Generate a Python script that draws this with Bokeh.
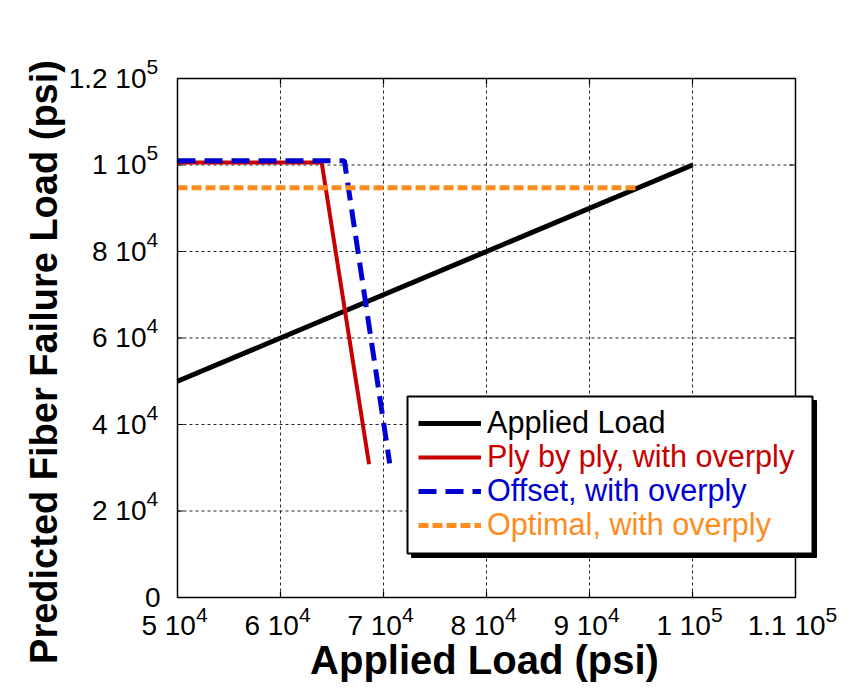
import math
from bokeh.plotting import figure
from bokeh.models import Range1d, Legend, LegendItem
from bokeh.core.properties import value
from bokeh.embed import file_html
from bokeh.resources import INLINE

# --- data (psi) ---
applied_x = [50000, 100000]
applied_y = [50000, 100000]

ply_x = [50000, 64000, 68600]
ply_y = [100550, 100550, 30800]

offset_x = [50000, 66200, 70600]
offset_y = [101000, 101000, 31000]

optimal_x = [50000, 94700]
optimal_y = [94750, 94750]

# tick positions and labels written as "mantissa 10^exponent"
x_ticks = [50000, 60000, 70000, 80000, 90000, 100000, 110000]
x_mant = ["5", "6", "7", "8", "9", "1", "1.1"]
x_exp = ["4", "4", "4", "4", "4", "5", "5"]
y_ticks = [0, 20000, 40000, 60000, 80000, 100000, 120000]
y_mant = ["0", "2", "4", "6", "8", "1", "1.2"]
y_exp = ["", "4", "4", "4", "4", "5", "5"]

series_labels = ["Applied Load", "Ply by ply, with overply",
                 "Offset, with overply", "Optimal, with overply"]
series_colors = ["#000000", "#C80000", "#0000D2", "#FF8C1E"]

x_title = "Applied Load (psi)"
y_title = "Predicted Fiber Failure Load (psi)"

# --- page geometry (pixels) ---
W, H = 858, 690
BOX_L, BOX_R, BOX_T, BOX_B = 177, 795, 78, 597

FONT = value("Liberation Sans")
BASE_PX = 28
EXP_PX = 21
LIFT = 8  # raise text glyphs so their baselines sit where intended

x_per_px = (x_ticks[-1] - x_ticks[0]) / (BOX_R - BOX_L)
y_per_px = (y_ticks[-1] - y_ticks[0]) / (BOX_B - BOX_T)


def px2x(px):
    return x_ticks[0] + (px - BOX_L) * x_per_px


def px2y(py):
    return y_ticks[0] + (BOX_B - py) * y_per_px


def text_width(s, px):
    """Approximate advance width of a numeric string in an Arial-metric font."""
    return sum(0.278 if ch in " ." else 0.556 for ch in s) * px


# the frame fills the page; the plot box is drawn inside it
p = figure(width=W, height=H, output_backend="svg", toolbar_location=None,
           x_range=Range1d(px2x(0), px2x(W)), y_range=Range1d(px2y(H), px2y(0)),
           min_border=0, min_border_left=0, min_border_right=0,
           min_border_top=0, min_border_bottom=0,
           background_fill_color="white", border_fill_color="white")
p.outline_line_color = None
p.xaxis.visible = False
p.yaxis.visible = False
p.grid.visible = False

# dotted grid inside the plot box
gx = x_ticks[1:-1]
gy = y_ticks[1:-1]
p.segment(x0=gx, y0=[y_ticks[0]] * len(gx), x1=gx, y1=[y_ticks[-1]] * len(gx),
          line_color="black", line_alpha=0.85, line_width=1, line_dash="3 3")
p.segment(x0=[x_ticks[0]] * len(gy), y0=gy, x1=[x_ticks[-1]] * len(gy), y1=gy,
          line_color="black", line_alpha=0.85, line_width=1, line_dash="3 3")

# inward tick marks on all four sides
tick_kw = dict(length=6, length_units="screen", line_color="black", line_width=1.2)
p.ray(x=gx, y=[y_ticks[0]] * len(gx), angle=math.pi / 2, **tick_kw)
p.ray(x=gx, y=[y_ticks[-1]] * len(gx), angle=-math.pi / 2, **tick_kw)
p.ray(x=[x_ticks[0]] * len(gy), y=gy, angle=0, **tick_kw)
p.ray(x=[x_ticks[-1]] * len(gy), y=gy, angle=math.pi, **tick_kw)

# series
r_applied = p.line(applied_x, applied_y, line_color=series_colors[0], line_width=5)
r_ply = p.line(ply_x, ply_y, line_color=series_colors[1], line_width=4)
r_offset = p.line(offset_x, offset_y, line_color=series_colors[2], line_width=5,
                  line_dash="18 9")
r_optimal = p.line(optimal_x, optimal_y, line_color=series_colors[3], line_width=5,
                   line_dash="10 4")

# plot box
p.quad(left=[x_ticks[0]], right=[x_ticks[-1]], bottom=[y_ticks[0]], top=[y_ticks[-1]],
       fill_alpha=0, line_color="black", line_width=1.5)

# --- x tick labels: base text plus raised exponent ---
xb_text, x_split = [], []
for m, e in zip(x_mant, x_exp):
    base = m + " 10"
    wb = text_width(base, BASE_PX)
    we = text_width(e, EXP_PX)
    xb_text.append(base)
    x_split.append(-(wb + we) / 2 - 3 + wb)
zeros_x = [y_ticks[0]] * len(x_ticks)
p.text(x=x_ticks, y=zeros_x, text=xb_text, x_offset=x_split, y_offset=36 - LIFT,
       text_align="right", text_baseline="alphabetic", text_font=FONT,
       text_font_size=f"{BASE_PX}px", text_color="black")
p.text(x=x_ticks, y=zeros_x, text=x_exp, x_offset=x_split, y_offset=25 - LIFT,
       text_align="left", text_baseline="alphabetic", text_font=FONT,
       text_font_size=f"{EXP_PX}px", text_color="black")

# --- y tick labels ---
yb_text, yb_off, ye_text, ye_y = [], [], [], []
for t, m, e in zip(y_ticks, y_mant, y_exp):
    if e:
        yb_text.append(m + " 10")
        yb_off.append(-31)
        ye_text.append(e)
        ye_y.append(t)
    else:
        yb_text.append(m)
        yb_off.append(-17)
left_x = [x_ticks[0]] * len(y_ticks)
p.text(x=left_x, y=y_ticks, text=yb_text, x_offset=yb_off, y_offset=7.5 - LIFT,
       text_align="right", text_baseline="alphabetic", text_font=FONT,
       text_font_size=f"{BASE_PX}px", text_color="black")
p.text(x=[x_ticks[0]] * len(ye_y), y=ye_y, text=ye_text, x_offset=-31,
       y_offset=-4 - LIFT,
       text_align="left", text_baseline="alphabetic", text_font=FONT,
       text_font_size=f"{EXP_PX}px", text_color="black")

# --- axis titles ---
x_mid = (x_ticks[0] + x_ticks[-1]) / 2
y_mid = (y_ticks[0] + y_ticks[-1]) / 2
p.text(x=[x_mid], y=[y_ticks[0]], text=[x_title], x_offset=-2, y_offset=70 - LIFT,
       text_align="center", text_baseline="alphabetic", text_font=FONT,
       text_font_size="40px", text_font_style="bold", text_color="black")
p.text(x=[x_ticks[0]], y=[y_mid], text=[y_title], angle=math.pi / 2,
       x_offset=-126 - LIFT, y_offset=24,
       text_align="center", text_baseline="alphabetic", text_font=FONT,
       text_font_size="38px", text_font_style="bold", text_color="black")

# --- legend box with drop shadow ---
LEG_L, LEG_R, LEG_T, LEG_B = 407, 812, 396, 553
SH = 4
p.quad(left=[px2x(LEG_L + SH)], right=[px2x(LEG_R + SH)],
       top=[px2y(LEG_T + SH)], bottom=[px2y(LEG_B + SH)],
       fill_color="black", line_color="black")
p.quad(left=[px2x(LEG_L)], right=[px2x(LEG_R)],
       top=[px2y(LEG_T)], bottom=[px2y(LEG_B)],
       fill_color="white", line_color="black", line_width=2)

# one legend per entry so each label takes its series colour
renderers = [r_applied, r_ply, r_offset, r_optimal]
row_centres = [423, 457, 491, 525]
for rend, lab, col, yc in zip(renderers, series_labels, series_colors, row_centres):
    p.add_layout(Legend(items=[LegendItem(label=lab, renderers=[rend])],
                        location=(LEG_L + 11, H - (yc + 17)),
                        label_text_color=col, label_text_font="Liberation Sans",
                        label_text_font_size="30.6px",
                        glyph_width=63, glyph_height=34, label_height=34,
                        label_standoff=6, padding=0, margin=0, spacing=0,
                        border_line_alpha=0, background_fill_alpha=0))

open("out.html", "w").write(file_html(p, INLINE))
